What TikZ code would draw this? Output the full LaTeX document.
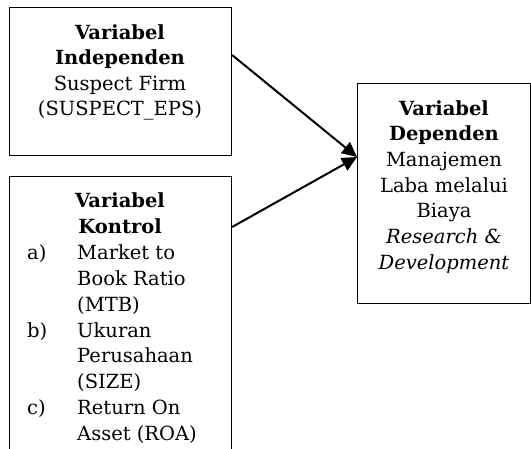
\documentclass[tikz,border=0pt]{standalone}
\usepackage{fontspec}
\setmainfont{DejaVu Serif}
\usetikzlibrary{arrows.meta}
\begin{document}
\begin{tikzpicture}[x=1pt,y=-1pt,
  box/.style={draw=black,line width=1.1pt},
  txt/.style={font=\fontsize{19.5pt}{22pt}\selectfont,inner sep=0pt,anchor=base},
  lbl/.style={font=\fontsize{19.5pt}{22pt}\selectfont,inner sep=0pt,anchor=base west},
  conn/.style={line width=2pt,-{Triangle[length=15pt,width=14pt]}}]
\useasboundingbox (0,0) rectangle (531,448);
\clip (0,0) rectangle (531,448);
% boxes
\node[box,minimum width=222pt,minimum height=148pt,anchor=north west,inner sep=0pt] (ind) at (9,7) {};
\node[box,minimum width=222pt,minimum height=290pt,anchor=north west,inner sep=0pt] (kon) at (9,176) {};
\node[box,minimum width=173pt,minimum height=220pt,anchor=north west,inner sep=0pt] (dep) at (357,83) {};
% box 1 text
\node[txt] (i1) at (120,39) {\textbf{Variabel}};
\node[txt] (i2) at (120,64.5) {\textbf{Independen}};
\node[txt] (i3) at (120,90) {Suspect Firm};
\node[txt] (i4) at (120,115.5) {(SUSPECT\_EPS)};
% box 2 text
\node[txt] (k1) at (120,207) {\textbf{Variabel}};
\node[txt] (k2) at (120,233) {\textbf{Kontrol}};
\node[lbl] (ka) at (27,259.5) {a)};
\node[lbl] (ka1) at (77,259.5) {Market to};
\node[lbl] (ka2) at (77,285) {Book Ratio};
\node[lbl] (ka3) at (77,311) {(MTB)};
\node[lbl] (kb) at (27,337) {b)};
\node[lbl] (kb1) at (77,337) {Ukuran};
\node[lbl] (kb2) at (77,362.5) {Perusahaan};
\node[lbl] (kb3) at (77,388) {(SIZE)};
\node[lbl] (kc) at (27,414) {c)};
\node[lbl] (kc1) at (77,414) {Return On};
\node[lbl] (kc2) at (77,440) {Asset (ROA)};
% box 3 text
\node[txt] (d1) at (444,115) {\textbf{Variabel}};
\node[txt] (d2) at (444,140.5) {\textbf{Dependen}};
\node[txt] (d3) at (444,166) {Manajemen};
\node[txt] (d4) at (444,192) {Laba melalui};
\node[txt] (d5) at (444,217.5) {Biaya};
\node[txt] (d6) at (444,243) {\textit{Research \&}};
\node[txt] (d7) at (444,269) {\textit{Development}};
% connectors
\coordinate (s1) at (ind.east |- 0,55);
\coordinate (s2) at (kon.east |- 0,227);
\coordinate (t) at (dep.west |- 0,157);
\draw[conn] (s1) -- (t);
\draw[conn] (s2) -- (t);
\end{tikzpicture}
\end{document}
